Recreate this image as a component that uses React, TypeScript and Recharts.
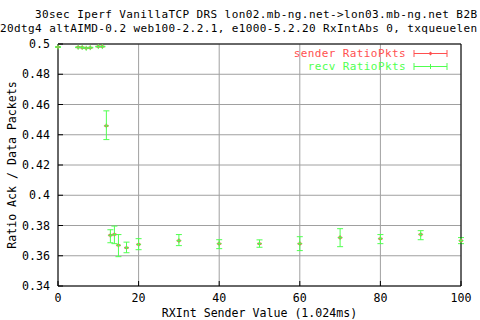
import { ScatterChart, Scatter, XAxis, YAxis, CartesianGrid, ErrorBar, Label } from "recharts";

const titleLines = [
  "30sec Iperf VanillaTCP DRS lon02.mb-ng.net->lon03.mb-ng.net B2B",
  "20dtg4 altAIMD-0.2 web100-2.2.1, e1000-5.2.20 RxIntAbs 0, txqueuelen",
];

const rxInt = [0, 5, 6, 7, 8, 10, 11, 12, 13, 14, 15, 17, 20, 30, 40, 50, 60, 70, 80, 90, 100];

const senderRatio = [0.498, 0.4978, 0.4977, 0.4972, 0.4976, 0.4983, 0.4983, 0.4459, 0.3735, 0.3741, 0.3669, 0.3653, 0.3675, 0.37, 0.368, 0.368, 0.368, 0.372, 0.3713, 0.3741, 0.37];
const senderLow = [0.4978, 0.4976, 0.4975, 0.497, 0.4974, 0.4981, 0.4981, 0.4456, 0.3732, 0.3738, 0.3666, 0.365, 0.3672, 0.3697, 0.3677, 0.3677, 0.3677, 0.3717, 0.371, 0.3738, 0.3697];
const senderHigh = [0.4982, 0.498, 0.4979, 0.4974, 0.4978, 0.4985, 0.4985, 0.4462, 0.3738, 0.3744, 0.3672, 0.3656, 0.3678, 0.3703, 0.3683, 0.3683, 0.3683, 0.3723, 0.3716, 0.3744, 0.3703];

const recvRatio = [0.498, 0.4978, 0.4977, 0.4972, 0.4976, 0.4983, 0.4983, 0.4459, 0.3735, 0.3741, 0.3669, 0.3653, 0.3675, 0.37, 0.368, 0.368, 0.368, 0.372, 0.3713, 0.3741, 0.37];
const recvLow = [0.4978, 0.4976, 0.4975, 0.497, 0.4974, 0.4981, 0.4981, 0.4368, 0.3686, 0.368, 0.3594, 0.362, 0.364, 0.3667, 0.3647, 0.3656, 0.3634, 0.366, 0.368, 0.3706, 0.368];
const recvHigh = [0.4982, 0.498, 0.4979, 0.4974, 0.4978, 0.4985, 0.4985, 0.4558, 0.3772, 0.3796, 0.374, 0.369, 0.3713, 0.374, 0.3706, 0.3705, 0.3726, 0.3779, 0.374, 0.3766, 0.372];

const xTicks = [0, 20, 40, 60, 80, 100];
const yTicks = [0.34, 0.36, 0.38, 0.4, 0.42, 0.44, 0.46, 0.48, 0.5];

const RED = "#ff5050";
const GREEN = "#50ff50";
const FONT = "'DejaVu Sans Mono', 'Liberation Mono', monospace";
const FS = 11.6;
// title and legend sit on tight lines, so a slightly smaller size with spacing keeps the width
const FS_SMALL = 11;
const SPACING = "0.4px";

const rows = (vals: number[], low: number[], high: number[]) =>
  rxInt.map((x, i) => ({ x, y: vals[i], err: [vals[i] - low[i], high[i] - vals[i]] }));

const senderData = rows(senderRatio, senderLow, senderHigh);
const recvData = rows(recvRatio, recvLow, recvHigh);

const series = [
  { name: "sender RatioPkts", color: RED },
  { name: "recv RatioPkts", color: GREEN },
];

const Plus = (p: any) => (
  <g stroke={GREEN} strokeWidth={1}>
    <line x1={p.cx - 2.5} y1={p.cy} x2={p.cx + 2.5} y2={p.cy} />
    <line x1={p.cx} y1={p.cy - 2.5} x2={p.cx} y2={p.cy + 2.5} />
  </g>
);

const Diamond = (p: any) => (
  <polygon
    points={`${p.cx},${p.cy - 2} ${p.cx + 2},${p.cy} ${p.cx},${p.cy + 2} ${p.cx - 2},${p.cy}`}
    fill={RED}
    stroke="none"
  />
);

const fmtY = (v: number) => String(Number(v.toFixed(2)));

export default function App() {
  const tickStyle = { fontFamily: FONT, fontSize: FS, fill: "#000" };
  return (
    <div style={{ position: "fixed", left: 0, top: 0, width: 480, height: 320, background: "#fff", overflow: "hidden" }}>
      <div style={{ position: "absolute", left: 0, top: 0, width: 480, fontFamily: FONT, fontSize: FS_SMALL, letterSpacing: SPACING, lineHeight: "13px", whiteSpace: "pre", color: "#000" }}>
        <div style={{ position: "absolute", left: 35, top: 8, height: 13 }}>{titleLines[0]}</div>
        <div style={{ position: "absolute", left: 0, top: 21.5, height: 13 }}>{titleLines[1]}</div>
      </div>
      <ScatterChart width={480} height={320} margin={{ top: 43, right: 18, bottom: 0, left: 8 }}>
        <CartesianGrid stroke="#a0a0a0" strokeWidth={1} />
        <XAxis
          type="number"
          dataKey="x"
          domain={[0, 100]}
          ticks={xTicks}
          height={34}
          tickSize={-5}
          tickMargin={13}
          axisLine={{ stroke: "#000" }}
          tickLine={{ stroke: "#000" }}
          tick={tickStyle}
        >
          <Label
            content={(props: any) => {
              const vb = props.viewBox;
              return (
                <text x={vb.x + vb.width / 2} y={317} textAnchor="middle" fontFamily={FONT} fontSize={FS} fill="#000">
                  RXInt Sender Value (1.024ms)
                </text>
              );
            }}
          />
        </XAxis>
        <XAxis xAxisId="top" orientation="top" type="number" domain={[0, 100]} ticks={xTicks} height={1} tickSize={-5} tick={false} axisLine={{ stroke: "#000" }} tickLine={{ stroke: "#000" }} />
        <YAxis
          type="number"
          dataKey="y"
          domain={[0.34, 0.5]}
          ticks={yTicks}
          width={50}
          tickSize={-5}
          tickMargin={13}
          tickFormatter={fmtY}
          axisLine={{ stroke: "#000" }}
          tickLine={{ stroke: "#000" }}
          tick={tickStyle}
        >
          <Label
            content={(props: any) => {
              const vb = props.viewBox;
              const cy = vb.y + vb.height / 2;
              return (
                <text x={16} y={cy} transform={`rotate(-90 16 ${cy})`} textAnchor="middle" fontFamily={FONT} fontSize={FS} fill="#000">
                  Ratio Ack / Data Packets
                </text>
              );
            }}
          />
        </YAxis>
        <YAxis yAxisId="right" orientation="right" type="number" domain={[0.34, 0.5]} ticks={yTicks} width={1} tickSize={-5} tick={false} axisLine={{ stroke: "#000" }} tickLine={{ stroke: "#000" }} />
        <Scatter name={series[0].name} data={senderData} shape={Diamond} isAnimationActive={false}>
          <ErrorBar dataKey="err" direction="y" width={2} stroke={RED} strokeWidth={1} />
        </Scatter>
        <Scatter name={series[1].name} data={recvData} shape={Plus} isAnimationActive={false}>
          <ErrorBar dataKey="err" direction="y" width={3} stroke={GREEN} strokeWidth={1} />
        </Scatter>
      </ScatterChart>
      <div style={{ position: "absolute", left: 0, top: 46.5, width: 448, fontFamily: FONT, fontSize: FS_SMALL, letterSpacing: SPACING }}>
        {series.map((s) => (
          <div key={s.name} style={{ display: "flex", justifyContent: "flex-end", alignItems: "center", height: 13, marginBottom: 0.5, color: s.color }}>
            <span style={{ display: "block", marginRight: 7, height: 13, lineHeight: "13px", whiteSpace: "pre" }}>{s.name}</span>
            <svg width={35} height={9}>
              <line x1={1} y1={4.5} x2={34} y2={4.5} stroke={s.color} />
              <line x1={1} y1={1} x2={1} y2={8} stroke={s.color} />
              <line x1={34} y1={1} x2={34} y2={8} stroke={s.color} />
              {s.color === RED ? (
                <polygon points="17.5,2.5 19.5,4.5 17.5,6.5 15.5,4.5" fill={RED} />
              ) : (
                <line x1={17.5} y1={2} x2={17.5} y2={7} stroke={s.color} />
              )}
            </svg>
          </div>
        ))}
      </div>
    </div>
  );
}
